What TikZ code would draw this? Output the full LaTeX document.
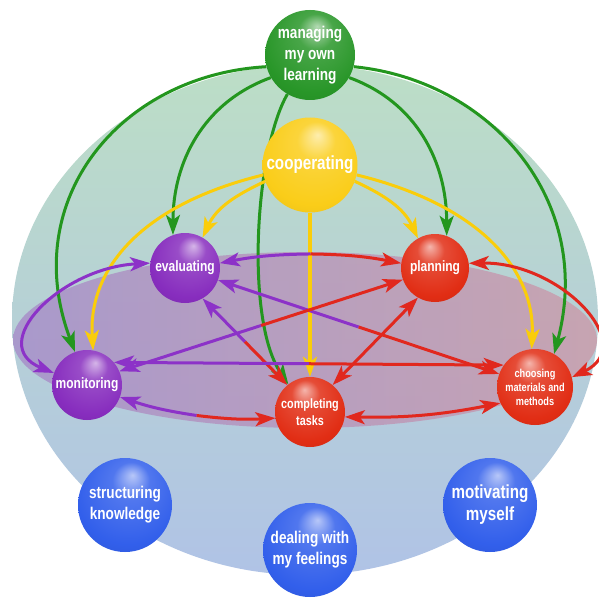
\documentclass[tikz,border=0pt]{standalone}
\usepackage{fontspec}
\setmainfont{Liberation Sans}[FakeStretch=0.8]
\usetikzlibrary{arrows.meta,calc}
\pgfdeclarelayer{bg}\pgfdeclarelayer{arr}\pgfsetlayers{bg,arr,main}
\definecolor{cG}{RGB}{40,150,40}
\definecolor{cY}{RGB}{250,205,25}
\definecolor{cP}{RGB}{135,45,190}
\definecolor{cR}{RGB}{225,45,20}
\definecolor{cB}{RGB}{50,95,235}
\definecolor{lG}{RGB}{35,150,30}
\definecolor{lY}{RGB}{250,205,10}
\definecolor{lP}{RGB}{140,50,200}
\definecolor{lR}{RGB}{225,40,30}
\definecolor{topC}{RGB}{188,222,198}
\definecolor{botC}{RGB}{176,195,230}
\definecolor{ringL}{RGB}{165,135,200}
\definecolor{ringR}{RGB}{205,150,165}
\pgfdeclareradialshading{ballG}{\pgfqpoint{4bp}{16bp}}{color(0bp)=(cG!35!white); color(10bp)=(cG!85!white); color(28bp)=(cG); color(50bp)=(cG!80!black)}
\pgfdeclareradialshading{ballY}{\pgfqpoint{4bp}{16bp}}{color(0bp)=(cY!35!white); color(10bp)=(cY!85!white); color(28bp)=(cY); color(50bp)=(cY!85!black)}
\pgfdeclareradialshading{ballP}{\pgfqpoint{6bp}{16bp}}{color(0bp)=(cP!35!white); color(10bp)=(cP!85!white); color(28bp)=(cP); color(50bp)=(cP!80!black)}
\pgfdeclareradialshading{ballR}{\pgfqpoint{-4bp}{16bp}}{color(0bp)=(cR!35!white); color(10bp)=(cR!85!white); color(28bp)=(cR); color(50bp)=(cR!80!black)}
\pgfdeclareradialshading{ballB}{\pgfqpoint{4bp}{16bp}}{color(0bp)=(cB!35!white); color(10bp)=(cB!85!white); color(28bp)=(cB); color(50bp)=(cB!80!black)}
\tikzset{
  ball/.style={circle, inner sep=0pt, text=white, align=center},
  fs/.style 2 args={font=\bfseries\fontsize{#1}{#2}\selectfont},
  ln/.style={line width=3pt, >={Stealth[length=20pt,width=14pt,inset=5pt]}},
  gA/.style={ln, lG, ->},
  yA/.style={ln, lY, ->},
  pA/.style={ln, lP},
  rA/.style={ln, lR},
}
\newcommand\bicol[4]{%
  \draw[#3,<-] (#1) -- ($(#1)!.5!(#2)$);
  \draw[#4,->] ($(#1)!.5!(#2)$) -- (#2);}
\begin{document}
\begin{tikzpicture}[x=1pt,y=1pt]
\useasboundingbox (0,0) rectangle (598,-599);
\clip (0,0) rectangle (598,-599);
\begin{pgfonlayer}{bg}
\fill[white] (0,0) rectangle (598,-599);
\shade[top color=topC, bottom color=botC, middle color=topC!50!botC] (305,-320) ellipse [x radius=293, y radius=255];
\shade[left color=ringL, right color=ringR, opacity=.75] (305,-340) ellipse [x radius=292, y radius=88];
\end{pgfonlayer}
% nodes
\node[ball, shading=ballG, minimum size=90pt, fs={17}{21}] (man) at (310,-55) {managing\\my own\\learning};
\node[ball, shading=ballY, minimum size=95pt, fs={19}{22}] (coo) at (310,-165) {cooperating};
\node[ball, shading=ballP, minimum size=70pt, fs={15}{17}] (eva) at (185,-268) {evaluating};
\node[ball, shading=ballR, minimum size=68pt, fs={15}{17}] (pla) at (435,-268) {planning};
\node[ball, shading=ballP, minimum size=70pt, fs={15}{17}] (mon) at (87,-385) {monitoring};
\node[ball, shading=ballR, minimum size=70pt, fs={13.5}{17}] (com) at (310,-412) {completing\\tasks};
\node[ball, shading=ballR, minimum size=76pt, fs={11.5}{14}] (cho) at (535,-387) {choosing\\materials and\\methods};
\node[ball, shading=ballB, minimum size=94pt, fs={17}{21}] (str) at (125,-505) {structuring\\knowledge};
\node[ball, shading=ballB, minimum size=94pt, fs={17}{21}] (dea) at (310,-550) {dealing with\\my feelings};
\node[ball, shading=ballB, minimum size=94pt, fs={19}{22}] (mot) at (490,-505) {motivating\\myself};
\begin{pgfonlayer}{arr}
% green
\draw[gA] (man.195) .. controls (120,-75) and (18,-200) .. (mon.110);
\draw[gA] (man.210) to[out=200,in=90] (eva.110);
\draw[gA] (man.240) .. controls (255,-150) and (245,-320) .. (com.128);
\draw[gA] (man.330) to[out=-20,in=90] (pla.70);
\draw[gA] (man.345) .. controls (490,-80) and (595,-200) .. (cho.60);
% yellow
\draw[yA] (coo.200) to[out=205,in=65] (eva.60);
\draw[yA] (coo.340) to[out=-25,in=115] (pla.120);
\draw[yA] (coo.192) .. controls (140,-205) and (88,-270) .. (mon.80);
\draw[yA] (coo.348) .. controls (480,-205) and (535,-270) .. (cho.95);
\draw[yA, line width=3.2pt] (coo) -- (com);
% ring
\path (eva.8) to[bend left=10] coordinate[pos=.5] (m1) (pla.172);
\draw[pA,<-] (eva.8) to[bend left=5] (m1);
\draw[rA,->] (m1) to[bend left=5] (pla.172);
\bicol{eva.-20}{cho.160}{pA}{rA}
\bicol{eva.-60}{com.130}{pA}{rA}
\bicol{mon.23}{pla.200}{pA}{rA}
\bicol{mon.40}{cho.145}{pA}{rA}
\draw[rA,<->] (pla.240) -- (com.50);
\path (mon.-20) to[bend right=10] coordinate[pos=.5] (m2) (com.190);
\draw[pA,<-] (mon.-20) to[bend right=5] (m2);
\draw[rA,->] (m2) to[bend right=5] (com.190);
\draw[rA,<->] (com.-8) to[bend right=6] (cho.205);
\draw[pA,<->] (eva.172) .. controls (60,-268) and (-15,-345) .. (mon.160);
\draw[rA,<->] (pla.8) .. controls (560,-262) and (640,-345) .. (cho.15);
\end{pgfonlayer}
\end{tikzpicture}
\end{document}
